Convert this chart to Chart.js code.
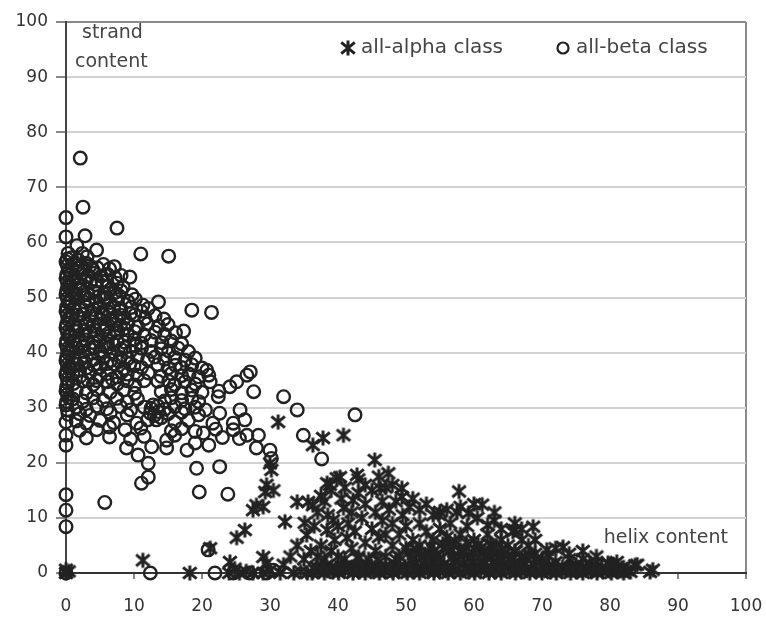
<!DOCTYPE html>
<html>
<head>
<meta charset="utf-8">
<script src="https://cdn.jsdelivr.net/npm/chart.js@4.4.1/dist/chart.umd.min.js"></script>
<style>
  body { margin: 0; background: #fff; }
  #wrap { width: 766px; height: 617px; }
</style>
</head>
<body>
<div id="wrap"><canvas id="scatter"></canvas></div>
<script>
// tick labels
const xTicks = [0, 10, 20, 30, 40, 50, 60, 70, 80, 90, 100];
const yTicks = [0, 10, 20, 30, 40, 50, 60, 70, 80, 90, 100];
const seriesNames = ["all-alpha class", "all-beta class"];

// all-beta class: [helix content, strand content]
const betaAxis = [
  [0, 8.4], [0, 11.4], [0, 14.2], [0, 23.2], [0, 25], [0, 27.4], [0.3, 28.8], [0, 30.5],
  [0.4, 31.8], [0, 33], [0.3, 34.5], [0, 36], [0.4, 37.2], [0, 38.5], [0.3, 40], [0, 41.5],
  [0.4, 43], [0, 44.5], [0.3, 46], [0, 47.5], [0.4, 49], [0, 50.5], [0.3, 52], [0, 53.5],
  [0.4, 55], [0, 56.5], [0.3, 58], [0, 61], [0, 64.5], [0, 0],
  [0.2, 57], [0.2, 55.8], [0.1, 54.2], [0.2, 52.8], [0.1, 51.3], [0.2, 49.8], [0.1, 48.3],
  [0.2, 46.8], [0.1, 45.2], [0.2, 43.7], [0.1, 42.2], [0.2, 40.7], [0.1, 39.2], [0.2, 37.8],
  [0.1, 36.6], [0.2, 35.2], [0.1, 33.8], [0.2, 32.4], [0.1, 31.1], [0.2, 29.6]
];
const betaOutliers = [
  [2.1, 75.3], [2.5, 66.4], [2.8, 61.2], [7.5, 62.6], [4.5, 58.6], [1.6, 59.4], [11, 57.9],
  [15.1, 57.5], [9.4, 53.7], [9.7, 50.5], [13.6, 49.2], [18.5, 47.7], [21.4, 47.3],
  [17.3, 43.9], [27.1, 36.5], [26.6, 35.9], [27.6, 32.9], [32, 32], [34, 29.6], [42.5, 28.7],
  [34.9, 25], [37.6, 20.7], [28.3, 25], [28, 22.7], [30, 22.3], [30.2, 20.8], [19.2, 19],
  [22.6, 19.3], [19.6, 14.7], [23.8, 14.3], [5.7, 12.8], [12.1, 19.9], [12.1, 17.4],
  [11.1, 16.3], [10.6, 21.4], [20.9, 4.2], [12.4, 0], [21.9, 0], [24.6, 0], [27, 0],
  [29.5, 0], [30.5, 0.5]
];
const betaCluster = [
  [0.8, 57.2], [1.8, 56.8], [3.1, 57.4], [2.4, 58],
  [0.9, 55.3], [1.7, 55.9], [2.6, 55.1], [3.5, 55.7], [4.6, 55.4], [5.5, 56], [6.4, 55.2], [7.1, 55.6],
  [0.7, 54.1], [1.3, 53.7], [2.2, 54.3], [3.1, 53.8], [4.1, 54.4], [5.2, 53.9], [6.1, 54.2], [7.2, 53.6], [8.1, 54],
  [0.6, 52.4], [1.6, 52.8], [2.5, 52.2], [3.6, 52.7], [4.4, 52.3], [5.3, 52.9], [6.2, 52.1], [7.5, 52.6], [8.4, 51.9],
  [0.8, 51.2], [1.2, 50.7], [2.1, 51.3], [3.2, 50.8], [4.1, 51.1], [5.6, 50.6], [6.5, 51.4], [7.2, 50.9], [8.1, 51.2],
  [0.6, 49.4], [1.5, 49.8], [2.6, 49.2], [3.4, 49.7], [4.5, 49.3], [5.6, 49.9], [6.5, 49.1], [7.6, 49.6], [9.1, 49.3], [10.2, 49.7], [11.3, 48.6],
  [1.1, 48.1], [2.1, 47.7], [3, 48.3], [4.1, 47.8], [5, 48.2], [6.1, 47.6], [7, 48.1], [8.1, 47.9], [9.6, 48.2], [11.1, 47.5], [12.1, 48],
  [0.7, 46.4], [1.6, 46.8], [2.5, 46.2], [3.6, 46.7], [4.4, 46.3], [5.5, 46.9], [6.6, 46.1], [7.4, 46.6], [8.6, 46.3], [10.1, 46.8], [11.6, 46.2], [13.1, 46.7], [14.4, 46.1],
  [1.1, 45.1], [2, 44.7], [3.1, 45.3], [4, 44.8], [5.1, 45.2], [6, 44.6], [7.1, 45.1], [8, 44.9], [9.1, 45.3], [10.6, 44.7], [12, 45.2], [13.6, 44.8], [15, 45.1],
  [0.6, 43.4], [1.5, 43.8], [2.6, 43.2], [3.5, 43.7], [4.6, 43.3], [5.5, 43.9], [6.4, 43.1], [7.6, 43.6], [9, 43.3], [10.1, 43.8], [11.5, 43.2], [13.1, 43.7], [14.5, 43.3], [16.1, 43.6],
  [1, 42.1], [2.1, 41.7], [3, 42.3], [4.1, 41.8], [5, 42.2], [6.1, 41.6], [7.5, 42.1], [8.6, 41.9], [10, 42.3], [11.1, 41.7], [12.5, 42.2], [14.1, 41.8], [15.5, 42.1], [17, 41.6],
  [0.6, 40.4], [1.5, 40.8], [2.6, 40.2], [3.5, 40.7], [5, 40.3], [6.1, 40.9], [7, 40.1], [8.1, 40.6], [9.5, 40.3], [11.1, 40.8], [12.5, 40.2], [14, 40.7], [15.1, 40.3], [16.5, 40.8], [18, 40.2],
  [1, 39.1], [2.1, 38.7], [3, 39.3], [4.1, 38.8], [5.5, 39.2], [6.6, 38.6], [8, 39.1], [9.1, 38.9], [10.5, 39.3], [12, 38.7], [13.1, 39.2], [14.5, 38.8], [16, 39.1], [17.5, 38.6], [19, 39],
  [0.6, 37.4], [1.6, 37.8], [3, 37.2], [4.1, 37.7], [5, 37.3], [7.1, 37.9], [8.5, 37.1], [10, 37.6], [11.1, 37.3], [13.5, 37.8], [15, 37.2], [16.1, 37.7], [17, 37.3], [18.5, 37.8], [20, 37.2], [20.7, 36.8],
  [1, 36.1], [2.1, 35.7], [3.5, 36.3], [5, 35.8], [6.1, 36.2], [7.5, 35.6], [9, 36.1], [10.5, 35.9], [12.1, 36.3], [14, 35.7], [15.5, 36.2], [17, 35.8], [18.1, 36.1], [19.5, 35.6], [21, 35.9],
  [1.1, 34.4], [2.5, 34.8], [4, 34.2], [6.1, 34.7], [7.5, 34.3], [9, 34.9], [10.1, 34.1], [11.5, 34.9], [13.5, 34.8], [15.1, 34.8], [16, 34.2], [17.5, 34.7], [19, 34.3], [21.2, 34.7], [25.1, 34.7],
  [1.5, 33.1], [3, 32.7], [4.5, 33.3], [6.5, 32.8], [8.5, 33.2], [10.1, 32.6], [14, 32.9], [15.5, 33.3], [17, 32.7], [18.5, 33.2], [20, 32.8], [24.1, 33.8], [22.5, 33],
  [1, 31.6], [2.5, 31.2], [4, 31.8], [5.5, 31.3], [7.5, 31.7], [9, 31.1], [10.5, 31.6], [14.5, 31.2], [15.5, 31.8], [17, 31.3], [18.5, 31.7], [19.5, 31.1], [22.4, 32],
  [1.5, 30.1], [3, 29.7], [4.5, 30.3], [6, 29.8], [8, 30.2], [9.5, 29.6], [11.5, 30.1], [12.5, 29.9], [13.5, 30.3], [14.5, 29.7], [16, 30.2], [17.5, 29.8], [19, 30.1], [20.5, 29.6], [25.6, 29.6],
  [12.4, 29], [13, 28.6], [13.6, 29.3], [12.8, 30.5], [14, 28.2], [13.3, 27.8],
  [2, 28.9], [3.5, 28.6], [6.5, 29.1], [9, 28.7], [15, 28.9], [17, 29.2], [19.5, 28.7], [22.6, 29],
  [1.5, 27.6], [3, 27.2], [5, 27.7], [7, 27.3], [10.4, 27.2], [12, 27.8], [16, 27.4], [18, 27.7], [21.6, 27.2], [24.6, 27.2], [26.3, 27.8],
  [2, 25.9], [4.5, 26], [6.4, 26.5], [8.7, 26], [11, 26.3], [15.5, 25.8], [17, 26.2], [19, 25.7], [20.2, 25.4], [22, 26.1], [24.6, 26], [26.6, 25],
  [3, 24.5], [6.4, 24.7], [9.5, 24.3], [11.5, 24.8], [14.8, 24.1], [16, 25], [19, 23.6], [23, 24.6], [25.5, 24.4],
  [8.9, 22.7], [12.6, 22.9], [14.8, 22.7], [17.8, 22.3], [21, 23.2]
];
// the darkest part of the beta cloud, read as overlapping rings
const betaCore = [
  [1.2, 56.2], [2.1, 55.4], [3, 56.2], [4, 55], [1, 53], [2, 52.5], [3, 53.2], [4.5, 53], [6, 53],
  [1.5, 50.3], [2.7, 50.5], [4.8, 50.2], [6, 50], [7.8, 50.3], [1, 47], [2.4, 47], [3.8, 47.2],
  [5.2, 47], [6.5, 47.3], [8, 46.8], [9.5, 47.1], [1.3, 44], [2.8, 44], [4.2, 44.1], [5.8, 44.2],
  [7.2, 44], [8.6, 44.4], [1, 41], [2.5, 41.2], [4, 41], [5.6, 41.2], [7, 41.5], [8.6, 40.9],
  [10.2, 41.2], [1.2, 38], [2.8, 38.2], [4.5, 38], [6, 38], [7.8, 38.4], [9.4, 38], [2, 36.8],
  [3.2, 35], [4.5, 34.9], [6.8, 35.2], [8.2, 36.5]
];

// all-alpha class: [helix content, strand content]
const alphaScatter = [
  [0, 0], [0.4, 0.3], [0, 0.6], [11.3, 2.3], [18.2, 0], [21.2, 4.5], [24, 0], [24.1, 2],
  [24.8, 0.8], [25.5, 0], [26.5, 0.3], [27.5, 0], [29, 2.9], [29.5, 1.8], [29, 0], [30, 0.5],
  [31.5, 0], [33.5, 0], [34.5, 0.3], [35.5, 0], [25.1, 6.4], [26.3, 7.8], [27.5, 11.4],
  [28, 12.3], [29, 12], [29.3, 14.7], [29.5, 16], [30.5, 15], [30.2, 18.7], [30, 19.9],
  [31.2, 27.4], [32.2, 9.3], [34, 12.9], [35.6, 12.9], [36.3, 12.3], [35.1, 9.1], [35.4, 6.9],
  [36.3, 23.2], [37.8, 24.5], [40.8, 25], [38.8, 16], [39.8, 17.2], [38.4, 16.3], [39.3, 9.6],
  [38.4, 7.8], [40.8, 11.8], [42.2, 13.2], [41.3, 6.4], [42.8, 17.8], [40.3, 17.4], [45.4, 20.5],
  [47.4, 18.1], [46.2, 15.4], [49.4, 15.4], [49.4, 13.8], [57.8, 14.8], [61.2, 12.4],
  [59.2, 10.9], [54.8, 10.6], [55, 11.1], [62, 8.7], [66, 7.8], [65.7, 7.5], [68.7, 8.4],
  [73.1, 4.7], [70.7, 4.2], [85.9, 0.2], [83.7, 1.4], [86.3, 0.6], [79.7, 1.8], [77, 1.8]
];
const alphaDense = [
  [37, 3], [37.5, 5], [38, 2.5], [38.5, 10.5], [39, 4], [39.5, 6], [40, 3], [40, 8.5],
  [40.5, 13.5], [41, 2.5], [41.5, 9], [42, 4.5], [42, 11], [42.5, 7.5], [43, 3], [43, 14.5],
  [43.5, 10], [44, 5.5], [44, 12.5], [44.5, 2.5], [45, 8], [45, 15], [45.5, 4], [45.5, 11],
  [46, 6.5], [46.5, 9.5], [46.5, 13], [47, 3], [47, 7], [47.5, 11.5], [48, 5], [48, 9],
  [48.5, 2.5], [48.5, 13], [49, 7], [49.5, 10.5], [50, 4.5], [50, 8.5], [50.5, 12], [51, 6],
  [51.5, 3.5], [52, 9], [52, 5], [53, 7.5], [53.5, 3.5], [54, 10.5], [54, 6], [55, 8],
  [55.5, 4.5], [56, 6.5], [56.5, 9], [57, 5], [57.5, 11], [58, 7], [58.5, 4], [59, 8.5],
  [60, 6], [60.5, 10], [61, 4.5], [62, 7], [62.5, 5], [63, 9.5], [64, 6], [64.5, 3.5],
  [65, 5], [66, 4], [67, 6], [67.5, 3], [68, 5], [69, 3.5], [70, 2.5], [71, 3], [72, 2],
  [74, 2.5], [75, 1.5], [76, 2.5], [78, 2], [80, 1.5], [81, 2], [82, 1], [84, 1.5],
  [35, 2.5], [36, 4], [36.5, 8.5], [37, 11], [37.5, 14], [38, 13], [39, 15], [41, 15.5],
  [43, 17], [44, 16], [46, 17.5], [47, 15.5], [48, 16], [51, 13.5], [52, 11.5], [53, 12.5],
  [56, 11.5], [58, 12], [60, 12.5], [63, 11], [64, 8], [66, 9], [67, 8], [69, 6], [72, 4.5],
  [74, 3.5], [76, 4], [78, 3], [33, 3], [32, 1.5], [34, 5]
];
const alphaBand = [
  [36.2, 0], [37.1, 0.3], [38, 0], [39.2, 0.2], [40.1, 0], [41, 0.4], [42.2, 0], [43.1, 0.2],
  [44, 0], [45.2, 0.3], [46.1, 0], [47, 0.2], [48.1, 0], [49, 0.3], [50.2, 0], [51.1, 0.2],
  [52, 0], [53.2, 0.3], [54.1, 0], [55, 0.2], [56.2, 0], [57.1, 0.3], [58, 0], [59.2, 0.2],
  [60.1, 0], [61, 0.3], [62.2, 0], [63.1, 0.2], [64, 0], [65.2, 0.3], [66.1, 0], [67, 0.2],
  [68.2, 0], [69.1, 0.3], [70, 0], [71.2, 0.2], [72.1, 0], [73, 0.3], [74.2, 0], [75.1, 0.2],
  [76, 0], [77.2, 0.3], [78.1, 0], [79, 0.2], [80.2, 0], [81.1, 0.3], [82, 0], [83, 0.2],
  [36.8, 1.1], [38.3, 1.4], [39.7, 1], [41.2, 1.3], [42.6, 1.2], [44.1, 1.5], [45.5, 1],
  [47, 1.3], [48.4, 1.6], [49.8, 1.2], [51.3, 1.8], [52.7, 1.4], [54.2, 2], [55.6, 1.6],
  [57.1, 2.2], [58.5, 1.7], [60, 2.1], [61.4, 1.8], [62.9, 2], [64.3, 1.6], [65.8, 1.8],
  [67.2, 1.4], [68.7, 1.5], [70.1, 1.2], [71.6, 1.4], [73, 1.1], [74.5, 1.3], [75.9, 1],
  [77.4, 1.2], [78.8, 1], [80.3, 1.1], [81.7, 0.9],
  [36.6, 0.6], [37.6, 0.7], [38.6, 0.5], [39.6, 0.6], [40.6, 0.8], [41.6, 0.5], [42.7, 0.7],
  [43.6, 0.6], [44.6, 0.8], [45.7, 0.5], [46.6, 0.7], [47.6, 0.6], [48.7, 0.8], [49.6, 0.6],
  [50.7, 0.7], [51.6, 0.9], [52.6, 0.6], [53.7, 0.8], [54.6, 1], [55.7, 0.7], [56.7, 1.1],
  [57.6, 0.8], [58.7, 1], [59.7, 0.7], [60.6, 1.1], [61.7, 0.8], [62.6, 1], [63.7, 0.7],
  [64.6, 0.9], [65.6, 0.6], [66.7, 0.8], [67.6, 0.6], [68.6, 0.7], [69.7, 0.5], [70.6, 0.7],
  [71.7, 0.6], [72.6, 0.5], [73.7, 0.7], [74.6, 0.6], [75.6, 0.5], [76.7, 0.6], [77.6, 0.5],
  [78.6, 0.7], [79.6, 0.5], [80.7, 0.6], [81.6, 0.4], [82.6, 0.5]
];
const alphaMound = [
  [49, 3], [50.3, 3.6], [51.5, 4.2], [52.8, 3.4], [53.6, 4.8], [54.5, 3.1], [55.4, 5.3],
  [56.3, 3.9], [57.2, 5.8], [58, 4.2], [58.9, 5.5], [59.8, 3.6], [60.6, 5.1], [61.5, 4],
  [62.4, 5.2], [63.3, 3.5], [64.1, 4.4], [65, 3.2], [66, 3.8], [67, 2.8], [68.2, 3.3],
  [69.3, 2.5], [50.9, 2.6], [56.9, 2.9], [61.9, 2.7], [45.8, 2.4], [43, 2.6],
  [52.2, 2.8], [53.3, 2.5], [55, 2.6], [57.8, 3.1], [59.2, 2.6], [60.8, 3], [63.8, 2.6],
  [65.6, 2.4], [54.1, 4], [56.1, 4.7], [58.4, 3.5], [60.2, 4.3], [62.1, 3.4], [63.1, 4.6]
];

const toXY = list => list.map(p => ({ x: p[0], y: p[1] }));
const alphaPoints = toXY([...alphaScatter, ...alphaDense, ...alphaBand, ...alphaMound]);
const betaPoints = toXY([...betaAxis, ...betaOutliers, ...betaCluster, ...betaCore]);

const FONT = "'DejaVu Sans', sans-serif";
const INK = "#222";

// asterisk marker like the spreadsheet "star" point
function makeAsterisk(size, width) {
  const c = document.createElement("canvas");
  c.width = size;
  c.height = size;
  const g = c.getContext("2d");
  const m = size / 2;
  const r = size / 2 - 1.5;
  g.strokeStyle = INK;
  g.lineWidth = width;
  g.beginPath();
  g.moveTo(m, m - r); g.lineTo(m, m + r);
  g.moveTo(m - r * 0.9, m - r * 0.75); g.lineTo(m + r * 0.9, m + r * 0.75);
  g.moveTo(m + r * 0.9, m - r * 0.75); g.lineTo(m - r * 0.9, m + r * 0.75);
  g.stroke();
  return c;
}
const asterisk = makeAsterisk(18, 3);

/* legend and the two axis captions inside the plot */
const captionPlugin = {
  id: "captionPlugin",
  afterDraw(chart) {
    const { ctx, chartArea } = chart;
    ctx.save();
    ctx.fillStyle = "#444";
    ctx.textBaseline = "middle";
    ctx.textAlign = "left";
    ctx.font = "19px " + FONT;
    ctx.fillText("strand", chartArea.left + 16, chartArea.top + 11);
    ctx.fillText("content", chartArea.left + 9, chartArea.top + 40);
    ctx.textAlign = "right";
    ctx.fillText("helix content", chartArea.right - 18, chartArea.bottom - 35);

    const ly = chartArea.top + 26;
    ctx.textAlign = "left";
    ctx.font = "20px " + FONT;
    const ax = chartArea.right - 398;
    ctx.drawImage(asterisk, ax - 9, ly - 9);
    ctx.fillText(seriesNames[0], ax + 13, ly);
    const bx = chartArea.right - 183;
    ctx.beginPath();
    ctx.arc(bx, ly, 5.5, 0, Math.PI * 2);
    ctx.strokeStyle = INK;
    ctx.lineWidth = 2.2;
    ctx.stroke();
    ctx.fillText(seriesNames[1], bx + 13, ly);
    ctx.restore();
  }
};

new Chart(document.getElementById("scatter"), {
  type: "scatter",
  data: {
    datasets: [
      {
        label: seriesNames[0],
        data: alphaPoints,
        pointStyle: asterisk,
        pointRadius: 8,
        clip: false
      },
      {
        label: seriesNames[1],
        data: betaPoints,
        pointStyle: "circle",
        pointRadius: 6.3,
        borderWidth: 2.4,
        borderColor: INK,
        backgroundColor: "rgba(0,0,0,0)",
        clip: false
      }
    ]
  },
  plugins: [captionPlugin],
  options: {
    responsive: true,
    maintainAspectRatio: false,
    animation: false,
    events: [],
    layout: { padding: { top: 22, right: 20, left: 0, bottom: 0 } },
    plugins: {
      legend: { display: false },
      tooltip: { enabled: false }
    },
    scales: {
      x: {
        type: "linear",
        min: 0,
        max: 100,
        afterBuildTicks: scale => { scale.ticks = xTicks.map(v => ({ value: v })); },
        afterFit: scale => {
          scale.height = 44;
          scale.paddingLeft = 0;
          scale.paddingRight = 0;
        },
        ticks: {
          color: "#333",
          font: { family: FONT, size: 17 },
          padding: 17,
          maxRotation: 0
        },
        grid: {
          drawOnChartArea: true,
          color: c => (c.tick && c.tick.value === 100 ? "#8a8a8a" : "rgba(0,0,0,0)"),
          lineWidth: 2,
          tickColor: "#888",
          tickLength: 6
        },
        border: { color: "#333", width: 2 }
      },
      y: {
        type: "linear",
        min: 0,
        max: 100,
        afterBuildTicks: scale => { scale.ticks = yTicks.map(v => ({ value: v })); },
        afterFit: scale => {
          scale.width = 66;
          scale.paddingTop = 0;
          scale.paddingBottom = 0;
        },
        ticks: {
          color: "#333",
          font: { family: FONT, size: 17 },
          padding: 8
        },
        grid: {
          color: c => (c.tick && c.tick.value === 100 ? "#8a8a8a" : "#d2d2d2"),
          lineWidth: 2,
          tickColor: "#888",
          tickLength: 10
        },
        border: { color: "#444", width: 2 }
      }
    }
  }
});
</script>
</body>
</html>
